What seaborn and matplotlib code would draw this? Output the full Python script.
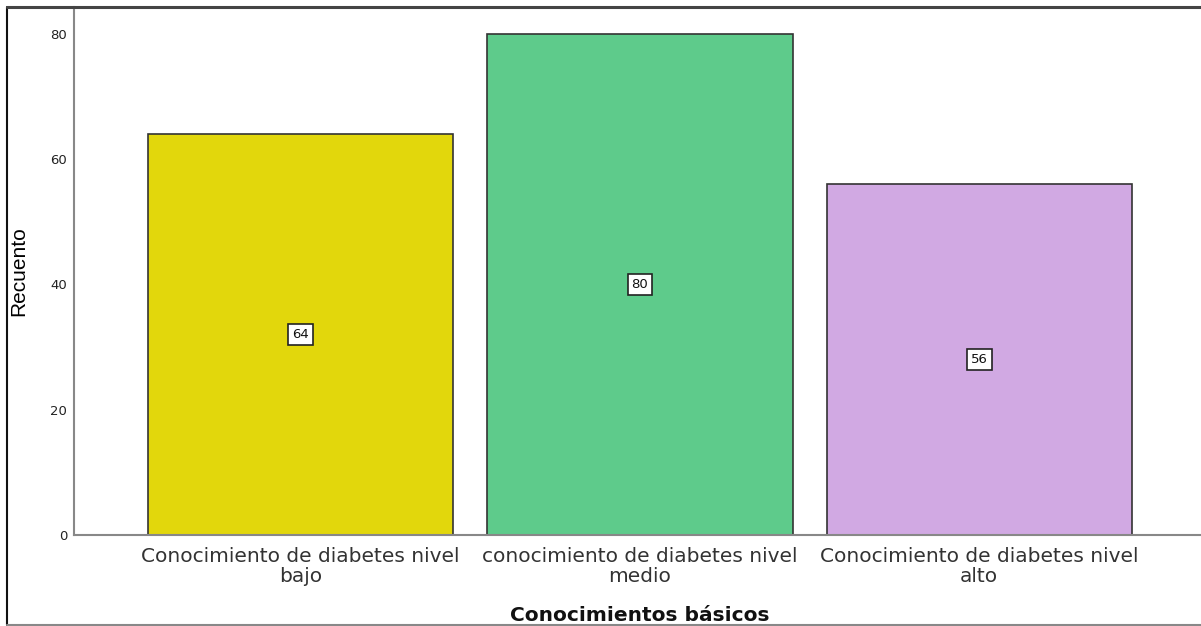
import matplotlib
matplotlib.use("Agg")
import matplotlib.pyplot as plt
import seaborn as sns
import pandas as pd

categories = ["Conocimiento de diabetes nivel\nbajo",
              "conocimiento de diabetes nivel\nmedio",
              "Conocimiento de diabetes nivel\nalto"]
counts = [64, 80, 56]
colors = ["#E2D70C", "#5ECB8B", "#D1A9E3"]
yticks = [0, 20, 40, 60, 80]

sns.set_theme(style="white")
plt.rcParams['font.family'] = ['DejaVu Sans']

df = pd.DataFrame({"cat": categories, "n": counts})

fig = plt.figure(figsize=(12.01, 6.26), dpi=100)
ax = fig.add_axes([74/1201, 91/626, 1 - 74/1201 + 0.004, (535-7)/626])
sns.barplot(data=df, x="cat", y="n", hue="cat", palette=colors, legend=False,
            width=0.9, edgecolor="#333333", linewidth=1.2, ax=ax, saturation=1)

ax.set_xlim(-0.668, 2.668)
ax.set_ylim(0, 84.3)
ax.set_yticks(yticks)
ax.set_yticklabels([str(v) for v in yticks], fontsize=9.5, color="#222222")
ax.tick_params(axis="y", length=0, pad=5)
ax.tick_params(axis="x", length=0, pad=8.5, labelsize=14.5, labelcolor="#333333")
for lbl in ax.get_xticklabels():
    lbl.set_linespacing(1.05)

for s in ["top", "right"]:
    ax.spines[s].set_visible(False)
for s in ["left", "bottom"]:
    ax.spines[s].set_color("#888888")
    ax.spines[s].set_linewidth(1.5)

for i, v in enumerate(counts):
    ax.text(i, v / 2, str(v), ha="center", va="center", fontsize=9.5, color="#111111",
            bbox=dict(boxstyle="square,pad=0.3", facecolor="white", edgecolor="#222222", linewidth=1.2))

ax.set_xlabel("Conocimientos básicos", fontsize=14.5, fontweight="bold", color="#111111", labelpad=15)
ax.set_ylabel("Recuento", fontsize=15, family=["Liberation Sans Narrow", "Liberation Sans"],
              fontweight="medium", color="#000000", labelpad=16)

# outer frame
fig.add_artist(plt.Line2D([7/1201, 7/1201], [1 - 7/626, 1 - 625/626], transform=fig.transFigure, color="#111111", lw=1.5))
fig.add_artist(plt.Line2D([7/1201, 1], [1 - 7/626, 1 - 7/626], transform=fig.transFigure, color="#444444", lw=2.2))
fig.add_artist(plt.Line2D([7/1201, 1], [1 - 625/626, 1 - 625/626], transform=fig.transFigure, color="#888888", lw=1.5))

fig.savefig("out.png", dpi=100)
